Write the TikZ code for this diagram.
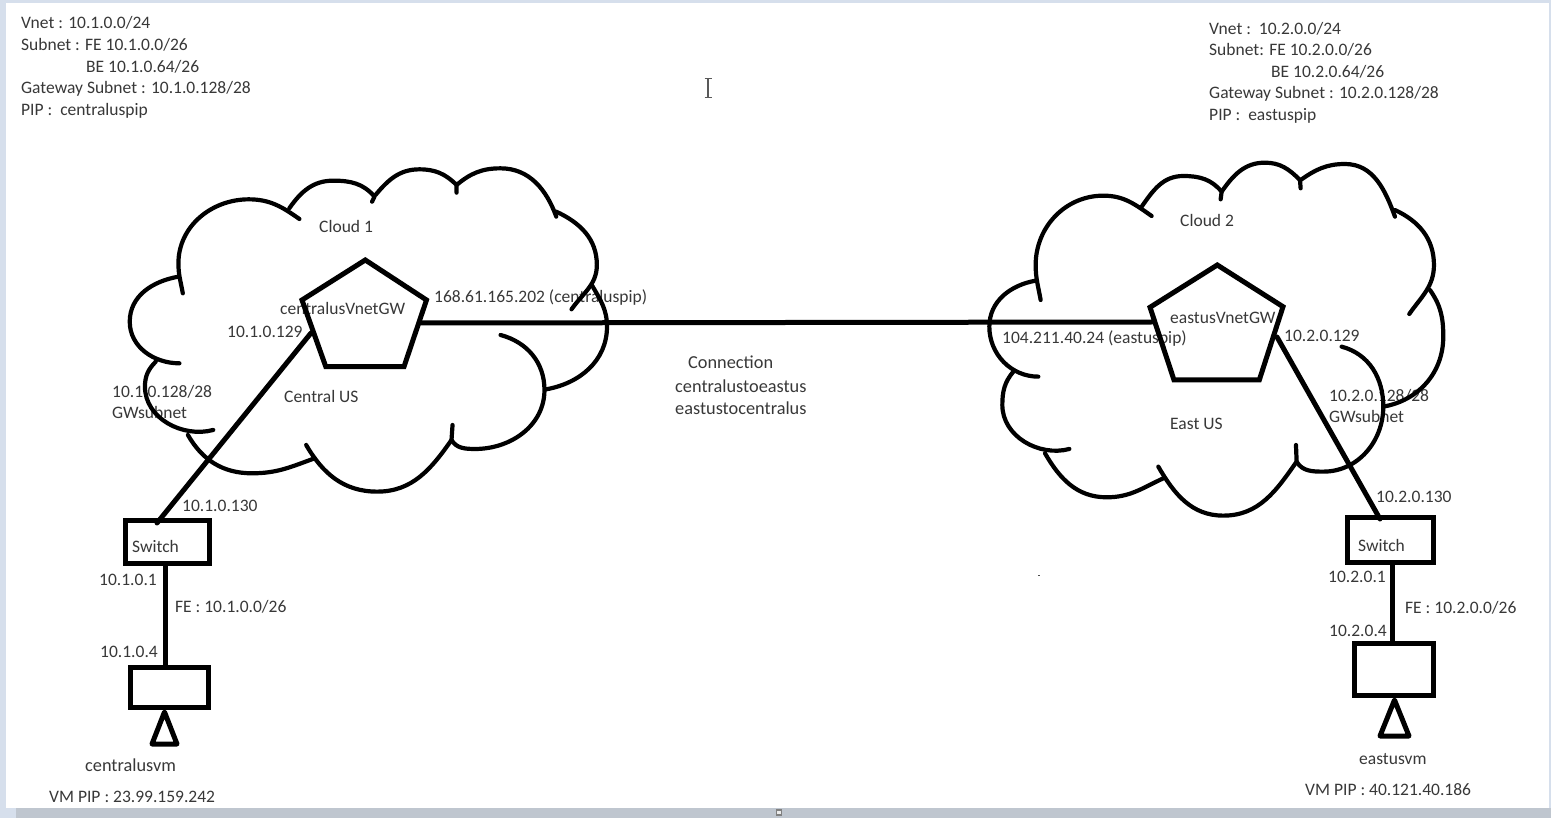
\documentclass[tikz,border=0pt]{standalone}
\usepackage{fontspec}
\setmainfont{Carlito}
\definecolor{txt}{HTML}{383838}
\definecolor{edge}{HTML}{D6DFEC}
\definecolor{band}{HTML}{BFC6CF}
\tikzset{
  lbl/.style={anchor=west,inner sep=0pt,text=txt,font=\fontsize{17.5}{19}\selectfont},
  wide/.style={lbl,font=\fontsize{18.3}{19}\selectfont},
  stroke/.style={line width=5pt,line cap=round,line join=miter},
  cloudarc/.style={line width=4.2pt,line cap=round,line join=round},
  box/.style={draw,line width=5.2pt,fill=none,inner sep=0pt},
}
\begin{document}
\begin{tikzpicture}[x=1pt,y=-1pt]
\useasboundingbox (0,0) rectangle (1551,818);
\fill[edge] (0,0) rectangle (1551,818);
\fill[white] (6,3) rectangle (1549,808);
\fill[band] (16,808) rectangle (1551,818);
\fill[black!8,draw=black!50,line width=1.2pt] (776.5,810) rectangle (781.5,815);
\fill[black!70] (1038,574.5) rectangle (1040,576);
\draw[black!65,line width=1.1pt] (708,79) -- (708,97) (704.5,78.5) -- (711.5,78.5) (704.5,97.5) -- (711.5,97.5);
% labels
\foreach \n/\x/\y/\t in {
 a1/21/22.5/{Vnet : 10.1.0.0/24},
 a2/21/44.5/{Subnet : FE 10.1.0.0/26},
 a3/86/66.5/{BE 10.1.0.64/26},
 a4/21/88.5/{Gateway Subnet : 10.1.0.128/28},
 a5/21/110.5/{PIP :\ \ centraluspip},
 b1/1209/28.5/{Vnet :\ \ 10.2.0.0/24},
 b2/1209/49.5/{Subnet: FE 10.2.0.0/26},
 b3/1271/71.5/{BE 10.2.0.64/26},
 b4/1209/93.5/{Gateway Subnet : 10.2.0.128/28},
 b5/1209/115.5/{PIP :\ \ eastuspip},
 c1/319/226.5/{Cloud 1},
 c2/280/308.5/{centralusVnetGW},
 c3/227/331.5/{10.1.0.129},
 c4/434/297.5/{168.61.165.202 (centraluspip)},
 c5/112/391.5/{10.1.0.128/28},
 c6/112/412.5/{GWsubnet},
 c7/284/396.5/{Central US},
 c8/182/505.5/{10.1.0.130},
 c9/132/546.5/{Switch},
 c10/99/579.5/{10.1.0.1},
 c11/175/606.5/{FE : 10.1.0.0/26},
 c12/100/651.5/{10.1.0.4},
 c14/49/796.5/{VM PIP : 23.99.159.242},
 d1/1180/220.5/{Cloud 2},
 d2/1170/317.5/{eastusVnetGW},
 d3/1284/335.5/{10.2.0.129},
 d4/1002/338.5/{104.211.40.24 (eastuspip)},
 d5/1329/395.5/{10.2.0.128/28},
 d6/1329/416.5/{GWsubnet},
 d7/1170/423.5/{East US},
 d8/1376/496.5/{10.2.0.130},
 d9/1358/545.5/{Switch},
 d10/1328/576.5/{10.2.0.1},
 d11/1405/607.5/{FE : 10.2.0.0/26},
 d12/1329/630.5/{10.2.0.4},
 d13/1359/759.5/{eastusvm},
 d14/1305/789.5/{VM PIP : 40.121.40.186}
}{\node[lbl] (\n) at (\x,\y) {\t};}
\node[wide] (m1) at (688,362.5) {Connection};
\node[wide] (m2) at (675,386.5) {centralustoeastus};
\node[wide] (m3) at (675,408.5) {eastustocentralus};
\node[wide] (c13) at (85,765.5) {centralusvm};
% cloud 1
\begin{scope}[shift={(100,150)},x=0.338pt,y=-0.3333pt,cloudarc]
\draw (245,430) to[out=100,in=270] (232,340) to[out=90,in=180] (440,148) to[out=0,in=145] (590,207);
\draw (560,175) to[out=55,in=180] (690,92) to[out=0,in=130] (812,140) -- (805,155);
\draw (815,135) to[out=50,in=180] (945,58) to[out=0,in=135] (1055,105) -- (1055,128);
\draw (1055,105) to[out=40,in=180] (1185,55) to[out=0,in=110] (1350,200);
\draw (1350,185) to[out=-25,in=90] (1470,345) to[out=270,in=55] (1395,478);
\draw (1455,405) to[out=-60,in=90] (1500,530) to[out=270,in=10] (1320,718);
\draw (1185,555) to[out=-15,in=90] (1315,720) to[out=270,in=0] (1110,897) to[out=180,in=-60] (1040,870) -- (1043,825);
\draw (1040,870) to[out=-125,in=0] (820,1025) to[out=180,in=-60] (610,885);
\draw (635,925) to[out=200,in=0] (450,970) to[out=180,in=-60] (260,855);
\draw (335,840) to[out=195,in=270] (133,710) to[out=90,in=225] (165,635);
\draw (235,640) to[out=180,in=270] (88,515) to[out=90,in=190] (232,380);
\end{scope}
% cloud 2
\begin{scope}[shift={(970,150)},x=0.3333pt,y=-0.3333pt,cloudarc]
\draw (212,450) to[out=100,in=270] (197,345) to[out=90,in=180] (400,137) to[out=0,in=145] (545,198);
\draw (515,170) to[out=55,in=180] (640,78) to[out=0,in=130] (755,125) -- (752,148);
\draw (755,125) to[out=55,in=180] (885,38) to[out=0,in=135] (990,90) -- (992,115);
\draw (992,90) to[out=35,in=180] (1125,42) to[out=0,in=110] (1275,200);
\draw (1275,180) to[out=-25,in=90] (1392,345) to[out=270,in=55] (1318,492);
\draw (1380,420) to[out=-55,in=90] (1420,560) to[out=270,in=10] (1240,770);
\draw (1115,590) to[out=-15,in=90] (1240,770) to[out=270,in=0] (1060,965) to[out=180,in=-60] (980,935) -- (978,885);
\draw (980,935) to[out=-125,in=0] (760,1097) to[out=180,in=-60] (565,950);
\draw (580,985) to[out=205,in=0] (410,1042) to[out=180,in=-60] (225,910);
\draw (298,897) to[out=195,in=270] (97,765) to[out=90,in=230] (130,665);
\draw (205,680) to[out=180,in=270] (58,530) to[out=90,in=190] (197,392);
\end{scope}
% gateways
\draw[stroke,line join=miter] (365.3,260) -- (426.5,300) -- (404,366.7) -- (325.8,366.7) -- (302,300) -- cycle;
\draw[stroke,line join=miter] (1217.3,265) -- (1283,306.7) -- (1259.3,380) -- (1174,380) -- (1150,307.3) -- cycle;
\coordinate (gw1e) at (420,323);
\coordinate (gw1w) at (311,333);
\coordinate (gw2w) at (1152,322);
\coordinate (gw2e) at (1277,337);
% boxes
\node[box,minimum width=84pt,minimum height=43pt] (sw1) at (167.5,542) {};
\node[box,minimum width=86pt,minimum height=45pt] (sw2) at (1390.5,540) {};
\node[box,minimum width=78pt,minimum height=40pt] (vm1) at (169.5,687.5) {};
\node[box,minimum width=79pt,minimum height=52pt] (vm2) at (1394,669.5) {};
\coordinate (sw1t) at (157,523);
\coordinate (sw2t) at (1380,519);
% antennas
\draw[line width=5pt,line join=round] (164.5,712) -- (177,744) -- (152,744) -- cycle;
\draw[line width=5pt,line join=round] (1394.5,700) -- (1409,736) -- (1380,736) -- cycle;
% connectors
\draw[stroke] (gw1e) -- (gw2w);
\draw[stroke] (gw1w) -- (sw1t);
\draw[stroke] (gw2e) -- (sw2t);
\draw[stroke] (sw1.south -| 165.7,0) -- (vm1.north -| 165.7,0);
\draw[stroke] (sw2.south -| 1392.3,0) -- (vm2.north -| 1392.3,0);
\end{tikzpicture}
\end{document}
